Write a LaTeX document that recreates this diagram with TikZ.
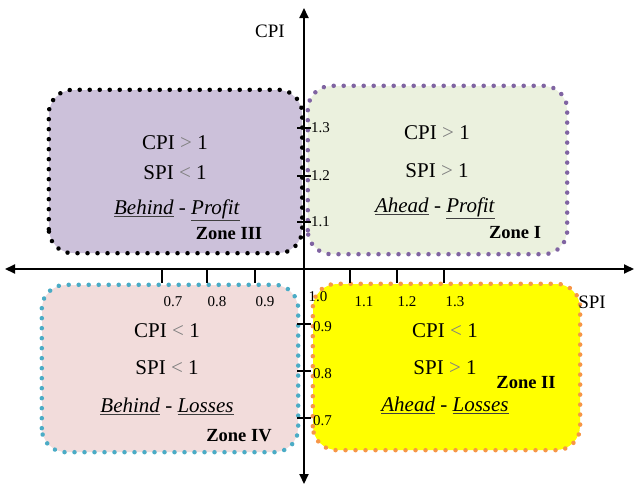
\documentclass[tikz,border=0pt]{standalone}
\usepackage{fontspec}
\setmainfont{Liberation Serif}
\usetikzlibrary{arrows.meta,decorations.markings}

\definecolor{lav}{HTML}{CCC1DA}
\definecolor{mint}{HTML}{EBF1DE}
\definecolor{blush}{HTML}{F2DCDB}
\definecolor{sun}{HTML}{FFFF00}
\definecolor{dotpurple}{HTML}{8064A2}
\definecolor{dotblue}{HTML}{4BACC6}
\definecolor{dotorange}{HTML}{F79646}
\definecolor{relgray}{HTML}{7F7F7F}

\newcommand\relsign[1]{\textcolor{relgray}{#1}}
\newcommand\uline[1]{\textcolor{darkgray}{\underline{\textcolor{black}{\textit{#1}}}}}

\tikzset{
  zonebox/.style={rounded corners=24pt, inner sep=0pt},
  dotrim/.style={rounded corners=24pt, postaction={decorate,
    decoration={markings, mark=between positions 0 and 1 step 10pt with
      {\fill[#1] (0,0) circle (2.25pt);}}}},
  cond/.style={font=\fontsize{21}{23}\selectfont, inner sep=0pt},
  zonelbl/.style={font=\fontsize{18.5}{20}\selectfont\bfseries, inner sep=0pt},
  ticklbl/.style={font=\fontsize{15}{16}\selectfont, inner sep=0pt},
  axislbl/.style={font=\fontsize{19}{20}\selectfont, inner sep=0pt},
  axis/.style={line width=2pt, -{Triangle[length=10pt,width=9pt]}},
  tickmark/.style={line width=1.6pt}
}

\begin{document}
\begin{tikzpicture}[x=1pt,y=-1pt]
\useasboundingbox (0,0) rectangle (635,485);

% quadrant boxes
\node[zonebox, fill=lav, minimum width=253pt, minimum height=163pt] (z3) at (175.5,171.5) {};
\node[zonebox, fill=mint, minimum width=259pt, minimum height=168pt] (z1) at (437.5,170) {};
\node[zonebox, fill=blush, minimum width=256pt, minimum height=167pt] (z4) at (170,368.5) {};
\node[zonebox, fill=sun, minimum width=267pt, minimum height=166pt] (z2) at (446.5,367) {};

% dotted rims
\path[dotrim=black] (z3.south west) rectangle (z3.north east);
\path[dotrim=dotpurple] (z1.south west) rectangle (z1.north east);
\path[dotrim=dotblue] (z4.south west) rectangle (z4.north east);
\path[dotrim=dotorange] (z2.south west) rectangle (z2.north east);

% axes
\coordinate (o) at (304,269);
\coordinate (xl) at (5,269);
\coordinate (xr) at (634,269);
\coordinate (yt) at (304,8);
\coordinate (yb) at (304,484);
\draw[axis] (o) -- (xr);
\draw[axis] (o) -- (xl);
\draw[axis] (o) -- (yt);
\draw[axis] (o) -- (yb);

% ticks on the SPI axis
\foreach \n/\x in {a/162,b/207,c/255,d/350,e/397,f/444}{
  \coordinate (tx\n) at (\x,269);
  \draw[tickmark] (tx\n) -- ++(0,14);
}
% ticks on the CPI axis
\foreach \n/\y in {a/128,b/176,c/222,d/324,e/371,f/418}{
  \coordinate (ty\n) at (304,\y);
  \draw[tickmark] (ty\n) ++(-7,0) -- ++(14,0);
}

% tick labels
\node[ticklbl] (l07) at (173,302) {0.7};
\node[ticklbl] (l08) at (217,302) {0.8};
\node[ticklbl] (l09) at (265,302) {0.9};
\node[ticklbl] (l10) at (318,297) {1.0};
\node[ticklbl] (l11) at (364,302) {1.1};
\node[ticklbl] (l12) at (407,302) {1.2};
\node[ticklbl] (l13) at (455,302) {1.3};
\node[ticklbl, anchor=west] (m13) at (311,128) {1.3};
\node[ticklbl, anchor=west] (m12) at (311,176) {1.2};
\node[ticklbl, anchor=west] (m11) at (311,222) {1.1};
\node[ticklbl, anchor=west] (m09) at (313,327) {0.9};
\node[ticklbl, anchor=west] (m08) at (313,374) {0.8};
\node[ticklbl, anchor=west] (m07) at (313,421) {0.7};

% axis names
\node[axislbl] (cpi) at (270,31) {CPI};
\node[axislbl] (spi) at (592,302) {SPI};

% Zone III
\node[cond] (z3a) at (175,143) {CPI \relsign{>} 1};
\node[cond] (z3b) at (175,173) {SPI \relsign{<} 1};
\node[cond] (z3c) at (177,210) {\uline{Behind} - \uline{Profit}};
\node[zonelbl] (z3n) at (229,234) {Zone III};

% Zone I
\node[cond] (z1a) at (437,133) {CPI \relsign{>} 1};
\node[cond] (z1b) at (437,171) {SPI \relsign{>} 1};
\node[cond] (z1c) at (435,208) {\uline{Ahead} - \uline{Profit}};
\node[zonelbl] (z1n) at (515,233) {Zone I};

% Zone IV
\node[cond] (z4a) at (167,331) {CPI \relsign{<} 1};
\node[cond] (z4b) at (167,368) {SPI \relsign{<} 1};
\node[cond] (z4c) at (167,406) {\uline{Behind} - \uline{Losses}};
\node[zonelbl] (z4n) at (239,436) {Zone IV};

% Zone II
\node[cond] (z2a) at (445,331) {CPI \relsign{<} 1};
\node[cond] (z2b) at (445,368) {SPI \relsign{>} 1};
\node[cond] (z2c) at (445,405) {\uline{Ahead} - \uline{Losses}};
\node[zonelbl] (z2n) at (526,383) {Zone II};
\end{tikzpicture}
\end{document}
